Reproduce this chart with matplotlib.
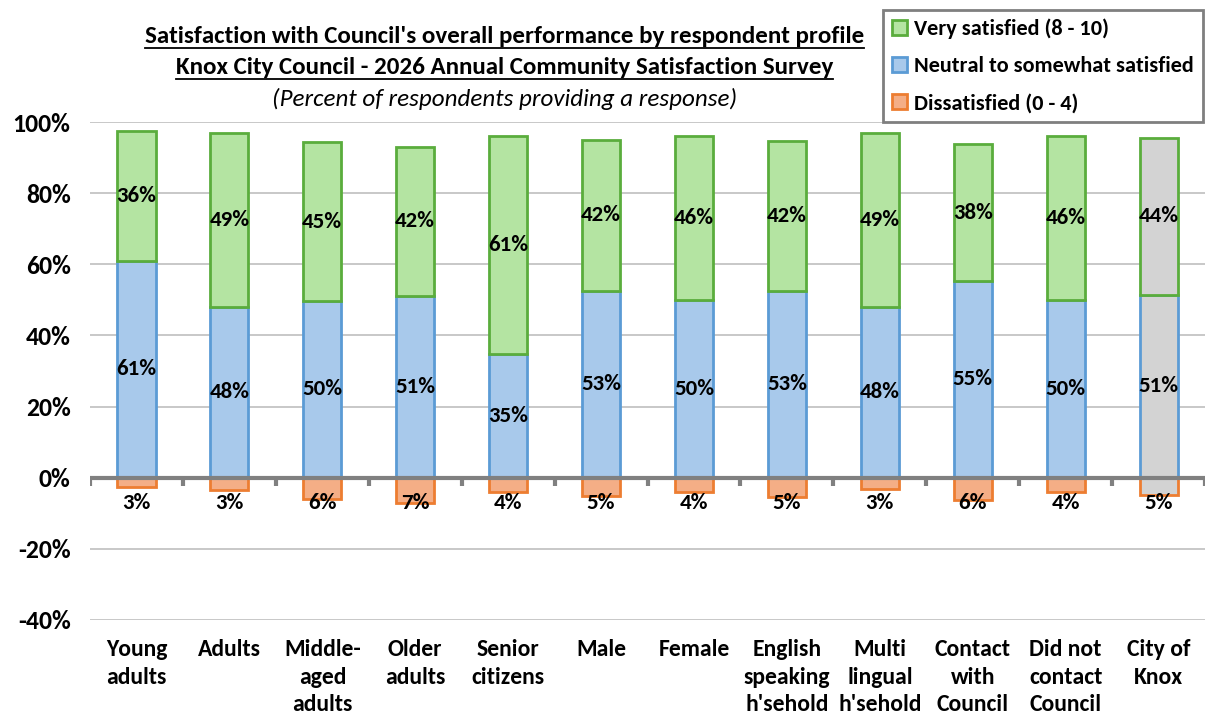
import numpy as np
import matplotlib.pyplot as plt
from matplotlib.patches import Patch
from matplotlib.lines import Line2D

plt.rcParams['font.family'] = ['Carlito', 'Lato', 'DejaVu Sans']
plt.rcParams['font.weight'] = 'bold'

categories = ["Young\nadults", "Adults", "Middle-\naged\nadults", "Older\nadults", "Senior\ncitizens",
              "Male", "Female", "English\nspeaking\nh'sehold", "Multi\nlingual\nh'sehold",
              "Contact\nwith\nCouncil", "Did not\ncontact\nCouncil", "City of\nKnox"]
very_satisfied = [36.4, 48.9, 44.7, 41.9, 61.4, 42.4, 46.1, 42.2, 48.9, 38.4, 46.1, 44.1]
neutral = [61.0, 48.0, 49.6, 51.1, 34.8, 52.6, 50.0, 52.6, 48.0, 55.3, 50.0, 51.4]
dissatisfied = [2.6, 3.4, 5.9, 7.0, 3.9, 5.1, 3.9, 5.3, 3.1, 6.2, 3.9, 4.8]

green_fill, green_edge = "#b4e4a2", "#5aad3c"
blue_fill, blue_edge = "#a8c9eb", "#5b9bd5"
orange_fill, orange_edge = "#f4ae86", "#ed7d31"
grey_fill = "#d3d3d3"

x = np.arange(len(categories))
very = np.array(very_satisfied)
neu = np.array(neutral)
dis = np.array(dissatisfied)

fig = plt.figure(figsize=(12.1, 7.14), dpi=100)
ax = fig.add_axes([0.0744, 0.1317, 0.9215, 0.6974])

w = 0.41
face_n = [blue_fill] * (len(x) - 1) + [grey_fill]
face_v = [green_fill] * (len(x) - 1) + [grey_fill]
face_d = [orange_fill] * (len(x) - 1) + [grey_fill]
ax.bar(x, neu, w, color=face_n, edgecolor=blue_edge, linewidth=2, zorder=3)
ax.bar(x, very, w, bottom=neu, color=face_v, edgecolor=green_edge, linewidth=2, zorder=3)
ax.bar(x, -dis, w, color=face_d, edgecolor=orange_edge, linewidth=2, zorder=3)

for i in range(len(x)):
    ax.text(x[i], neu[i] / 2, f"{neu[i]:.0f}%", ha='center', va='center', fontsize=16.5, zorder=5)
    ax.text(x[i], neu[i] + very[i] / 2, f"{very[i]:.0f}%", ha='center', va='center', fontsize=16.5, zorder=5)
    ax.text(x[i], -7.2, f"{dis[i]:.0f}%", ha='center', va='center', fontsize=16.5, zorder=5)

ax.set_xlim(-0.5, len(x) - 0.5)
ax.set_ylim(-40, 100)
ax.set_yticks(np.arange(-40, 101, 20))
ax.set_yticklabels([f"{v}%" for v in range(-40, 101, 20)], fontsize=18.5)
ax.set_xticks(x)
ax.set_xticklabels(categories, fontsize=17, va='top', linespacing=1.37)
ax.tick_params(axis='both', length=0)
ax.tick_params(axis='x', pad=14)
ax.tick_params(axis='y', pad=14)
for s in ax.spines.values():
    s.set_visible(False)
ax.grid(axis='y', color='#bfbfbf', linewidth=1.2, zorder=0)
ax.axhline(0, color='#808080', linewidth=3, zorder=4)
ax.vlines(np.arange(len(x) + 1) - 0.5, -2.2, 0, color='#808080', linewidth=3, zorder=4)

# titles
t1 = fig.text(0.417, 0.949, "Satisfaction with Council's overall performance by respondent profile",
              ha='center', va='center', fontsize=18)
t2 = fig.text(0.417, 0.906, "Knox City Council - 2026 Annual Community Satisfaction Survey",
              ha='center', va='center', fontsize=18)
fig.text(0.417, 0.862, "(Percent of respondents providing a response)", ha='center', va='center',
         fontsize=18, fontstyle='italic', fontweight='normal')
fig.canvas.draw()
r = fig.canvas.get_renderer()
for t in (t1, t2):
    bb = t.get_window_extent(r)
    yy = bb.y0 - 1
    fig.add_artist(Line2D([bb.x0 / fig.bbox.width, bb.x1 / fig.bbox.width],
                          [yy / fig.bbox.height, yy / fig.bbox.height],
                          color='black', linewidth=1.3, transform=fig.transFigure))

handles = [Patch(facecolor=green_fill, edgecolor=green_edge, linewidth=2, label="Very satisfied (8 - 10)"),
           Patch(facecolor=blue_fill, edgecolor=blue_edge, linewidth=2, label="Neutral to somewhat satisfied"),
           Patch(facecolor=orange_fill, edgecolor=orange_edge, linewidth=2, label="Dissatisfied (0 - 4)")]
leg = fig.legend(handles=handles, loc='upper right', bbox_to_anchor=(0.994, 0.986), fontsize=16,
                 handlelength=0.7, handleheight=0.7, handletextpad=0.3, labelspacing=0.76,
                 fancybox=False, framealpha=1, edgecolor='#7f7f7f', borderpad=0.4, borderaxespad=0)
leg.get_frame().set_linewidth(2)

plt.savefig("out.png", dpi=100)
